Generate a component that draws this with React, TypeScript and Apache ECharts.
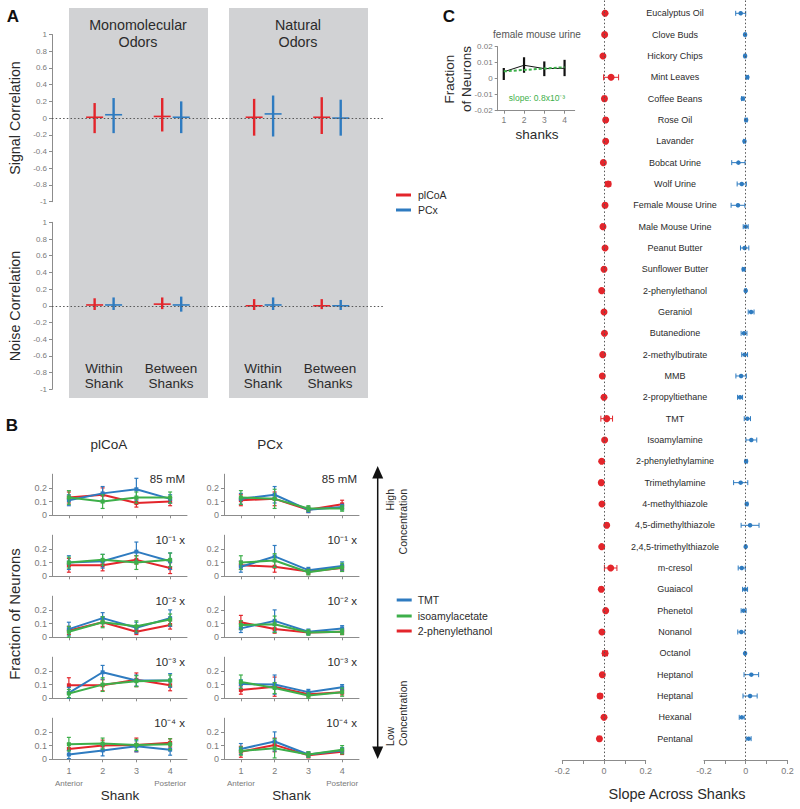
import { useEffect, useRef } from "react";
import * as echarts from "echarts";

const FONT = '"Liberation Sans", Arial, Helvetica, sans-serif';
const RED = "#e3252b";
const BLUE = "#2e7bc0";
const GREEN = "#3daf4a";
const GRAY_BOX = "#d1d2d4";
const AXIS = "#8c8c8c";
const TICK_TEXT = "#7a7a7a";
const TEXT = "#2b2b2b";
const DOTTED = { type: [1.5, 2.2], color: "#555", width: 1 };

// ---------- Panel A ----------
const aGroupLabels = ["Within\nShank", "Between\nShanks", "Within\nShank", "Between\nShanks"];
const aGroupPos = [15.6, 35.9, 63.5, 83.8];
const signalPlcoaMean = [0.01, 0.02, 0.01, 0.01];
const signalPlcoaLow = [-0.18, -0.16, -0.21, -0.19];
const signalPlcoaHigh = [0.18, 0.24, 0.23, 0.25];
const signalPcxMean = [0.04, 0.01, 0.05, 0.0];
const signalPcxLow = [-0.18, -0.18, -0.22, -0.21];
const signalPcxHigh = [0.24, 0.2, 0.27, 0.22];
const noisePlcoaMean = [0.01, 0.02, 0.0, 0.0];
const noisePlcoaLow = [-0.05, -0.04, -0.05, -0.04];
const noisePlcoaHigh = [0.09, 0.1, 0.08, 0.08];
const noisePcxMean = [0.01, 0.01, 0.01, 0.0];
const noisePcxLow = [-0.05, -0.07, -0.05, -0.05];
const noisePcxHigh = [0.1, 0.11, 0.1, 0.07];

// ---------- Panel B ----------
const shanks = [1, 2, 3, 4];
const concLabels = ["85 mM", "10⁻¹ x", "10⁻² x", "10⁻³ x", "10⁻⁴ x"];
const plcoaTMT = [
  [0.11, 0.16, 0.19, 0.12],
  [0.1, 0.11, 0.18, 0.11],
  [0.06, 0.14, 0.07, 0.14],
  [0.04, 0.19, 0.13, 0.13],
  [0.035, 0.065, 0.095, 0.07],
];
const plcoaTMTErr = [
  [0.04, 0.05, 0.08, 0.03],
  [0.05, 0.05, 0.07, 0.06],
  [0.05, 0.04, 0.04, 0.06],
  [0.04, 0.05, 0.04, 0.05],
  [0.03, 0.04, 0.04, 0.04],
];
const plcoaIso = [
  [0.13, 0.1, 0.13, 0.13],
  [0.1, 0.12, 0.1, 0.12],
  [0.04, 0.11, 0.08, 0.13],
  [0.035, 0.1, 0.125, 0.13],
  [0.11, 0.115, 0.105, 0.11],
];
const plcoaIsoErr = [
  [0.05, 0.05, 0.04, 0.04],
  [0.04, 0.04, 0.05, 0.05],
  [0.04, 0.04, 0.04, 0.04],
  [0.03, 0.05, 0.04, 0.04],
  [0.05, 0.04, 0.04, 0.04],
];
const plcoaPE = [
  [0.13, 0.15, 0.09, 0.1],
  [0.08, 0.08, 0.12, 0.06],
  [0.05, 0.11, 0.04, 0.09],
  [0.095, 0.095, 0.135, 0.095],
  [0.075, 0.1, 0.105, 0.12],
];
const plcoaPEErr = [
  [0.04, 0.05, 0.03, 0.03],
  [0.05, 0.04, 0.03, 0.04],
  [0.03, 0.03, 0.02, 0.03],
  [0.055, 0.04, 0.05, 0.04],
  [0.04, 0.04, 0.05, 0.03],
];
const pcxTMT = [
  [0.12, 0.15, 0.04, 0.06],
  [0.07, 0.145, 0.045, 0.075],
  [0.065, 0.12, 0.04, 0.065],
  [0.105, 0.1, 0.045, 0.08],
  [0.075, 0.13, 0.035, 0.065],
];
const pcxTMTErr = [
  [0.04, 0.06, 0.02, 0.02],
  [0.04, 0.08, 0.02, 0.03],
  [0.03, 0.08, 0.02, 0.02],
  [0.03, 0.07, 0.02, 0.02],
  [0.04, 0.07, 0.02, 0.02],
];
const pcxIso = [
  [0.13, 0.12, 0.05, 0.05],
  [0.1, 0.115, 0.03, 0.065],
  [0.09, 0.095, 0.035, 0.04],
  [0.12, 0.075, 0.02, 0.045],
  [0.06, 0.08, 0.035, 0.07],
];
const pcxIsoErr = [
  [0.05, 0.07, 0.02, 0.02],
  [0.05, 0.05, 0.02, 0.03],
  [0.03, 0.06, 0.02, 0.02],
  [0.05, 0.04, 0.02, 0.03],
  [0.03, 0.07, 0.02, 0.03],
];
const pcxPE = [
  [0.11, 0.12, 0.04, 0.08],
  [0.08, 0.07, 0.035, 0.06],
  [0.11, 0.06, 0.035, 0.04],
  [0.06, 0.085, 0.03, 0.045],
  [0.055, 0.105, 0.03, 0.055],
];
const pcxPEErr = [
  [0.04, 0.05, 0.02, 0.03],
  [0.03, 0.04, 0.02, 0.02],
  [0.05, 0.03, 0.01, 0.02],
  [0.03, 0.07, 0.02, 0.02],
  [0.04, 0.05, 0.02, 0.02],
];

// ---------- Panel C ----------
const insetMean = [0.0043, 0.0084, 0.0063, 0.0065];
const insetLow = [-0.0008, 0.0037, 0.0016, 0.0016];
const insetHigh = [0.0067, 0.0134, 0.0108, 0.0118];
const insetFitShanks = [1, 4];
const insetFit = [0.0046, 0.0072];

const odors = [
  "Eucalyptus Oil", "Clove Buds", "Hickory Chips", "Mint Leaves", "Coffee Beans", "Rose Oil",
  "Lavander", "Bobcat Urine", "Wolf Urine", "Female Mouse Urine", "Male Mouse Urine",
  "Peanut Butter", "Sunflower Butter", "2-phenylethanol", "Geraniol", "Butanedione",
  "2-methylbutirate", "MMB", "2-propyltiethane", "TMT", "Isoamylamine", "2-phenylethylamine",
  "Trimethylamine", "4-methylthiazole", "4,5-dimethylthiazole", "2,4,5-trimethylthiazole",
  "m-cresol", "Guaiacol", "Phenetol", "Nonanol", "Octanol", "Heptanol", "Heptanal",
  "Hexanal", "Pentanal",
];
const plcoaSlope = [0.005, 0.003, -0.005, 0.034, 0.002, 0.008, 0.008, -0.003, 0.02, 0.005, -0.005, 0.005, 0, -0.011, 0, 0.002, -0.006, -0.008, 0, 0.013, 0.003, -0.011, -0.013, -0.01, 0.013, -0.011, 0.032, -0.013, 0.008, -0.01, 0.005, -0.008, -0.019, 0, -0.022];
const plcoaSlopeErr = [0.006, 0.004, 0.004, 0.036, 0.008, 0.008, 0.006, 0.005, 0.012, 0.008, 0.007, 0.005, 0.006, 0.005, 0.005, 0.004, 0.006, 0.005, 0.006, 0.028, 0.005, 0.005, 0.007, 0.006, 0.007, 0.005, 0.03, 0.007, 0.006, 0.007, 0.012, 0.006, 0.01, 0.004, 0.008];
const pcxSlope = [-0.024, -0.003, -0.003, 0.008, -0.014, 0.002, -0.006, -0.035, -0.019, -0.037, 0, -0.005, -0.01, 0, 0.026, -0.008, -0.005, -0.022, -0.027, 0.008, 0.027, 0.002, -0.024, 0.005, 0.021, 0, -0.019, -0.003, -0.01, -0.021, -0.003, 0.027, 0.021, -0.019, 0.014];
const pcxSlopeErr = [0.024, 0.004, 0.004, 0.005, 0.006, 0.005, 0.004, 0.032, 0.022, 0.033, 0.012, 0.02, 0.006, 0.004, 0.014, 0.014, 0.014, 0.025, 0.012, 0.015, 0.026, 0.005, 0.034, 0.005, 0.043, 0.003, 0.017, 0.012, 0.012, 0.017, 0.003, 0.035, 0.034, 0.012, 0.012];

// ---------- render helpers ----------
function crossItem(_p: any, api: any) {
  const x = api.value(0);
  const pm = api.coord([x, api.value(1)]);
  const pl = api.coord([x, api.value(2)]);
  const ph = api.coord([x, api.value(3)]);
  const color = api.visual("color");
  return {
    type: "group",
    children: [
      { type: "line", shape: { x1: pl[0], y1: pl[1], x2: ph[0], y2: ph[1] }, style: { stroke: color, lineWidth: 2.4 } },
      { type: "line", shape: { x1: pm[0] - 8.5, y1: pm[1], x2: pm[0] + 8.5, y2: pm[1] }, style: { stroke: color, lineWidth: 1.6 } },
    ],
  };
}
function vErr(cap: number, lw: number) {
  return (_p: any, api: any) => {
    const x = api.value(0);
    const pl = api.coord([x, api.value(1)]);
    const ph = api.coord([x, api.value(2)]);
    const st = { stroke: api.visual("color"), lineWidth: lw };
    const ch: any[] = [{ type: "line", shape: { x1: pl[0], y1: pl[1], x2: ph[0], y2: ph[1] }, style: st }];
    if (cap > 0) {
      ch.push({ type: "line", shape: { x1: pl[0] - cap, y1: pl[1], x2: pl[0] + cap, y2: pl[1] }, style: st });
      ch.push({ type: "line", shape: { x1: ph[0] - cap, y1: ph[1], x2: ph[0] + cap, y2: ph[1] }, style: st });
    }
    return { type: "group", children: ch };
  };
}
function hErr(cap: number, lw: number) {
  return (_p: any, api: any) => {
    const y = api.value(2);
    const pl = api.coord([api.value(0), y]);
    const ph = api.coord([api.value(1), y]);
    const st = { stroke: api.visual("color"), lineWidth: lw };
    return {
      type: "group",
      children: [
        { type: "line", shape: { x1: pl[0], y1: pl[1], x2: ph[0], y2: ph[1] }, style: st },
        { type: "line", shape: { x1: pl[0], y1: pl[1] - cap, x2: pl[0], y2: pl[1] + cap }, style: st },
        { type: "line", shape: { x1: ph[0], y1: ph[1] - cap, x2: ph[0], y2: ph[1] + cap }, style: st },
      ],
    };
  };
}

function txt(text: string, x: number, y: number, size: number, o: any = {}) {
  const align = o.align || "center";
  return {
    type: "text",
    x,
    y,
    rotation: o.rot || 0,
    z: 100,
    style: {
      text,
      fill: o.color || TEXT,
      fontSize: size,
      fontFamily: FONT,
      fontWeight: o.bold ? "bold" : "normal",
      align,
      textAlign: align,
      verticalAlign: "middle",
      textVerticalAlign: "middle",
      lineHeight: o.lh || Math.round(size * 1.15),
    },
  };
}

function buildOption() {
  const grids: any[] = [];
  const xAxes: any[] = [];
  const yAxes: any[] = [];
  const series: any[] = [];
  const G = (left: number, top: number, width: number, height: number) =>
    grids.push({ left, top, width, height, containLabel: false, outerBoundsMode: "none" });
  const lineStyle = { color: AXIS, width: 1 };

  // A grids
  G(52, 34.5, 333, 167.2);
  G(52, 222.3, 333, 167);
  [0, 1].forEach((g) => {
    xAxes.push({ gridIndex: g, type: "value", min: 0, max: 100, show: false });
    yAxes.push({
      gridIndex: g, type: "value", min: -1, max: 1, interval: 0.2,
      axisLine: { show: true, onZero: false, lineStyle },
      axisTick: { show: true, length: 3, lineStyle },
      axisLabel: { color: TICK_TEXT, fontSize: 8, margin: 5, fontFamily: FONT },
      splitLine: { show: false },
    });
    const sets: any[] =
      g === 0
        ? [
            [signalPlcoaMean, signalPlcoaLow, signalPlcoaHigh, RED, -2.8],
            [signalPcxMean, signalPcxLow, signalPcxHigh, BLUE, 2.9],
          ]
        : [
            [noisePlcoaMean, noisePlcoaLow, noisePlcoaHigh, RED, -2.8],
            [noisePcxMean, noisePcxLow, noisePcxHigh, BLUE, 2.9],
          ];
    sets.forEach(([m, lo, hi, color, off], k) => {
      series.push({
        type: "custom", xAxisIndex: g, yAxisIndex: g, renderItem: crossItem, itemStyle: { color }, z: 3,
        data: aGroupPos.map((p, i) => [p + off, m[i], lo[i], hi[i]]),
        markLine:
          k === 0
            ? { silent: true, symbol: ["none", "none"], label: { show: false }, lineStyle: DOTTED, data: [{ yAxis: 0 }] }
            : undefined,
      });
    });
  });

  // B grids
  const bZeros = [515.3, 576.3, 637.3, 698.3, 759.3];
  const bCols = [52, 224];
  const bSets = [
    { color: RED, data: [plcoaPE, pcxPE], err: [plcoaPEErr, pcxPEErr] },
    { color: BLUE, data: [plcoaTMT, pcxTMT], err: [plcoaTMTErr, pcxTMTErr] },
    { color: GREEN, data: [plcoaIso, pcxIso], err: [plcoaIsoErr, pcxIsoErr] },
  ];
  bCols.forEach((left, c) => {
    bZeros.forEach((z, r) => {
      const idx = grids.length;
      G(left, z - 41.1, 135, 41.1);
      xAxes.push({
        gridIndex: idx, type: "value", min: 0.5, max: 4.5,
        axisLine: { show: true, onZero: false, lineStyle },
        axisTick: { show: true, length: 3, customValues: shanks, lineStyle },
        axisLabel: {
          show: r === 4, customValues: shanks, color: TICK_TEXT, fontSize: 9, margin: 6, fontFamily: FONT, lineHeight: 12,
          formatter: (v: number) => (v === 1 ? "1\n{s|Anterior}" : v === 4 ? "4\n{s|Posterior}" : String(v)),
          rich: { s: { fontSize: 8, color: TICK_TEXT, lineHeight: 13, fontFamily: FONT } },
        },
        splitLine: { show: false },
      });
      yAxes.push({
        gridIndex: idx, type: "value", min: 0, max: 0.3,
        axisLine: { show: true, onZero: false, lineStyle },
        axisTick: { show: true, length: 3, customValues: [0, 0.1, 0.2], lineStyle },
        axisLabel: { customValues: [0, 0.1, 0.2], color: TICK_TEXT, fontSize: 9, margin: 5, fontFamily: FONT },
        splitLine: { show: false },
      });
      bSets.forEach((s, k) => {
        const vals = s.data[c][r];
        const errs = s.err[c][r];
        series.push({
          type: "custom", xAxisIndex: idx, yAxisIndex: idx, renderItem: vErr(2, 1.2),
          itemStyle: { color: s.color }, z: 2 + k,
          data: shanks.map((x, i) => [x, vals[i] - errs[i], vals[i] + errs[i]]),
        });
        series.push({
          type: "line", xAxisIndex: idx, yAxisIndex: idx, z: 2 + k,
          data: shanks.map((x, i) => [x, vals[i]]),
          symbol: "rect", symbolSize: 4, showSymbol: true,
          lineStyle: { color: s.color, width: 2 }, itemStyle: { color: s.color },
        });
      });
    });
  });

  // C inset
  const inIdx = grids.length;
  G(497.7, 46.7, 77, 64);
  xAxes.push({
    gridIndex: inIdx, type: "value", min: 0.7, max: 4.5,
    axisLine: { show: true, onZero: false, lineStyle },
    axisTick: { show: true, length: 3, customValues: shanks, lineStyle },
    axisLabel: { customValues: shanks, color: TICK_TEXT, fontSize: 8.5, margin: 5, fontFamily: FONT },
    splitLine: { show: false },
  });
  yAxes.push({
    gridIndex: inIdx, type: "value", min: -0.02, max: 0.02, interval: 0.01,
    axisLine: { show: true, onZero: false, lineStyle },
    axisTick: { show: true, length: 3, lineStyle },
    axisLabel: { color: TICK_TEXT, fontSize: 8, margin: 5, fontFamily: FONT },
    splitLine: { show: false },
  });
  series.push({
    type: "custom", xAxisIndex: inIdx, yAxisIndex: inIdx, renderItem: vErr(0, 2.2), itemStyle: { color: "#111" }, z: 3,
    data: shanks.map((x, i) => [x, insetLow[i], insetHigh[i]]),
  });
  series.push({
    type: "line", xAxisIndex: inIdx, yAxisIndex: inIdx, symbol: "none", z: 3,
    data: shanks.map((x, i) => [x, insetMean[i]]), lineStyle: { color: "#111", width: 1 },
  });
  series.push({
    type: "line", xAxisIndex: inIdx, yAxisIndex: inIdx, symbol: "none", z: 4,
    data: insetFitShanks.map((x, i) => [x, insetFit[i]]), lineStyle: { color: GREEN, width: 2, type: [3, 2] },
  });

  // C main
  const cLefts = [562.3, 704];
  const cSets = [
    { color: RED, vals: plcoaSlope, errs: plcoaSlopeErr, size: 7, cap: 3 },
    { color: BLUE, vals: pcxSlope, errs: pcxSlopeErr, size: 4.5, cap: 2.5 },
  ];
  cLefts.forEach((left, k) => {
    const idx = grids.length;
    G(left, 0.5, 83.4, 759.5);
    xAxes.push({
      gridIndex: idx, type: "value", min: -0.2, max: 0.2, interval: 0.1,
      axisLine: { show: true, onZero: false, lineStyle },
      axisTick: { show: true, length: 4, lineStyle },
      axisLabel: { customValues: [-0.2, 0, 0.2], color: TICK_TEXT, fontSize: 9, margin: 6, fontFamily: FONT },
      splitLine: { show: false },
    });
    yAxes.push(
      k === 0
        ? { gridIndex: idx, type: "value", min: -0.6, max: 35, inverse: true, show: false }
        : {
            gridIndex: idx, type: "value", min: -0.6, max: 35, inverse: true,
            axisLine: { show: false, onZero: false }, axisTick: { show: false }, splitLine: { show: false },
            axisLabel: {
              customValues: odors.map((_, i) => i),
              formatter: (v: number) => odors[Math.round(v)] ?? "",
              align: "center", margin: 29, fontSize: 9, color: TEXT, fontFamily: FONT,
            },
          }
    );
    const s = cSets[k];
    series.push({
      type: "custom", xAxisIndex: idx, yAxisIndex: idx, renderItem: hErr(s.cap, 1), itemStyle: { color: s.color }, z: 3,
      data: s.vals.map((v, i) => [v - s.errs[i], v + s.errs[i], i]),
      markLine: { silent: true, symbol: ["none", "none"], label: { show: false }, lineStyle: DOTTED, data: [{ xAxis: 0 }] },
    });
    series.push({
      type: "scatter", xAxisIndex: idx, yAxisIndex: idx, z: 4,
      data: s.vals.map((v, i) => [v, i]), symbolSize: s.size, itemStyle: { color: s.color, opacity: 1 },
    });
  });

  // graphics
  const gr: any[] = [];
  gr.push({ type: "rect", z: -10, shape: { x: 69, y: 8, width: 139, height: 390 }, style: { fill: GRAY_BOX } });
  gr.push({ type: "rect", z: -10, shape: { x: 229, y: 8, width: 139, height: 390 }, style: { fill: GRAY_BOX } });
  gr.push(txt("A", 13, 16, 17, { bold: true, color: "#111" }));
  gr.push(txt("B", 12, 425, 17, { bold: true, color: "#111" }));
  gr.push(txt("C", 449, 16, 17, { bold: true, color: "#111" }));
  gr.push(txt("Monomolecular\nOdors", 138, 33.5, 14.3, { lh: 17 }));
  gr.push(txt("Natural\nOdors", 298, 33.5, 14.3, { lh: 17 }));
  const aLabelX = [104, 171, 263, 330];
  aGroupLabels.forEach((l, i) => gr.push(txt(l, aLabelX[i], 376, 13.5, { lh: 15.5 })));
  gr.push(txt("Signal Correlation", 15, 118, 14.3, { rot: Math.PI / 2 }));
  gr.push(txt("Noise Correlation", 15, 306, 14.3, { rot: Math.PI / 2 }));
  // A legend
  const legA = [["plCoA", RED, 195], ["PCx", BLUE, 210]] as const;
  legA.forEach(([name, color, y]) => {
    gr.push({ type: "line", z: 100, shape: { x1: 396, y1: y, x2: 411, y2: y }, style: { stroke: color, lineWidth: 3 } });
    gr.push(txt(name, 418, y, 10.5, { align: "left" }));
  });
  // B texts
  gr.push(txt("plCoA", 109, 444, 13.5));
  gr.push(txt("PCx", 270, 444, 13.5));
  bCols.forEach((left) => {
    bZeros.forEach((z, r) => gr.push(txt(concLabels[r], left + 133, z - 36, 11.5, { align: "right" })));
  });
  gr.push(txt("Fraction of Neurons", 14, 614, 15, { rot: Math.PI / 2 }));
  gr.push(txt("Shank", 120, 795, 13.5));
  gr.push(txt("Shank", 291.5, 795, 13.5));
  // arrow
  gr.push({ type: "line", z: 100, shape: { x1: 377.7, y1: 476, x2: 377.7, y2: 750 }, style: { stroke: "#111", lineWidth: 1.5 } });
  gr.push({ type: "polygon", z: 100, shape: { points: [[377.7, 466], [372.2, 478.5], [383.2, 478.5]] }, style: { fill: "#111" } });
  gr.push({ type: "polygon", z: 100, shape: { points: [[377.7, 759], [372.2, 746.5], [383.2, 746.5]] }, style: { fill: "#111" } });
  gr.push(txt("High\nConcentration", 396.3, 489, 10.5, { rot: Math.PI / 2, align: "right", lh: 12.7 }));
  gr.push(txt("Low\nConcentration", 396.3, 746, 10.5, { rot: Math.PI / 2, align: "left", lh: 12.7 }));
  const legB = [["TMT", BLUE, 600], ["isoamylacetate", GREEN, 616], ["2-phenylethanol", RED, 631]] as const;
  legB.forEach(([name, color, y]) => {
    gr.push({ type: "line", z: 100, shape: { x1: 396.7, y1: y, x2: 411.7, y2: y }, style: { stroke: color, lineWidth: 3 } });
    gr.push(txt(name, 417.7, y, 10.5, { align: "left" }));
  });
  // C texts
  gr.push(txt("female mouse urine", 537, 34, 10, { color: "#555" }));
  gr.push(txt("Fraction\nof Neurons", 458, 79, 13.5, { rot: Math.PI / 2, lh: 17.5 }));
  gr.push(txt("shanks", 537, 134, 13.5));
  gr.push(txt("slope: 0.8x10⁻³", 537, 98, 8.5, { color: GREEN }));
  gr.push(txt("Slope Across Shanks", 677, 794, 14.5));

  return {
    animation: false,
    backgroundColor: "#fff",
    textStyle: { fontFamily: FONT },
    grid: grids,
    xAxis: xAxes,
    yAxis: yAxes,
    series,
    graphic: { elements: gr },
  };
}

export default function App() {
  const ref = useRef<HTMLDivElement>(null);
  useEffect(() => {
    if (!ref.current) return;
    const chart = echarts.init(ref.current, undefined, { renderer: "svg" });
    chart.setOption(buildOption() as any);
    return () => chart.dispose();
  }, []);
  return (
    <div
      ref={ref}
      style={{ position: "fixed", left: 0, top: 0, width: 800, height: 809, background: "#fff" }}
    />
  );
}
